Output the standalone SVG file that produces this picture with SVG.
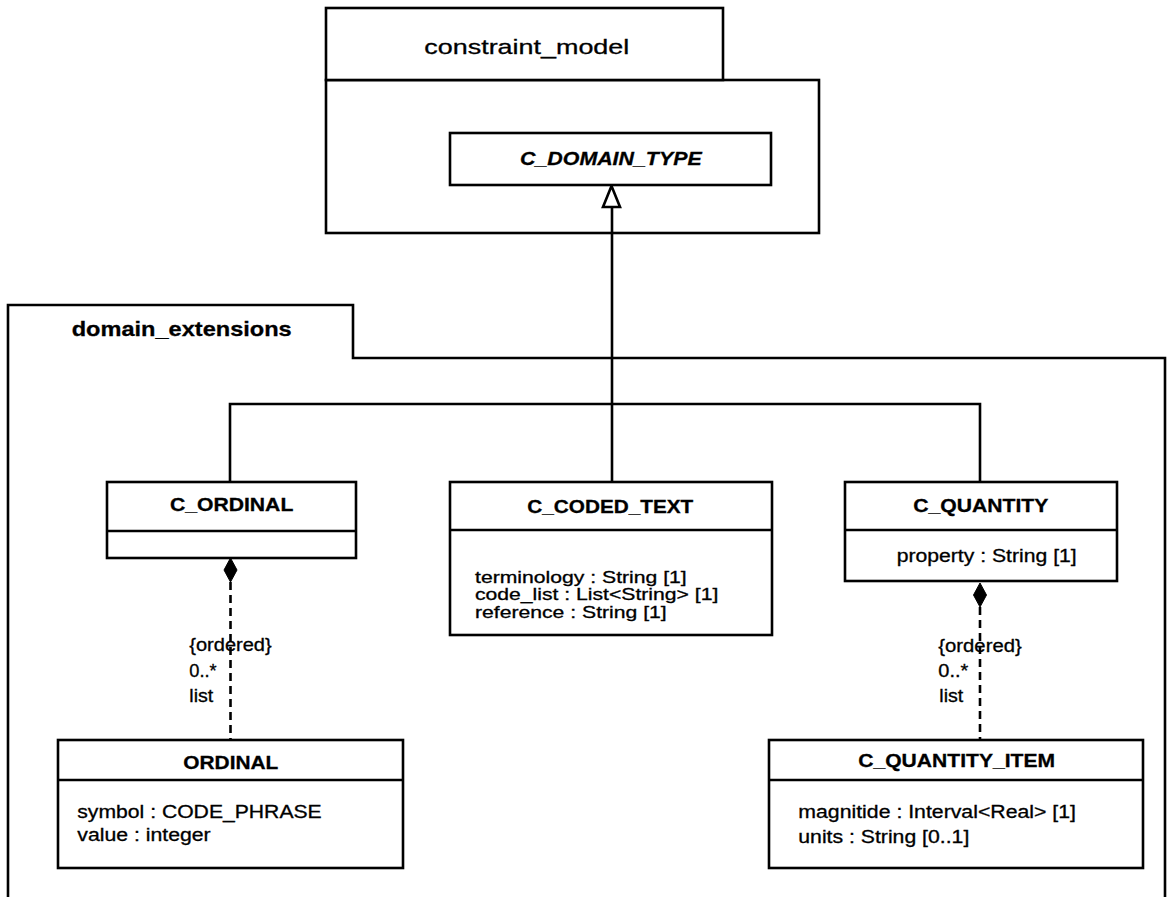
<svg xmlns="http://www.w3.org/2000/svg" width="1167" height="897" viewBox="0 0 1167 897">
<style>
.ln{fill:none;stroke:#000;stroke-width:2.6}
.box{fill:#fff;stroke:#000;stroke-width:2.6}
.dash{fill:none;stroke:#000;stroke-width:2.6;stroke-dasharray:8 5}
.solid{fill:#000;stroke:#000;stroke-width:1}
.hollow{fill:#fff;stroke:#000;stroke-width:2.6}
text{font-family:"Liberation Sans",Arial,sans-serif;fill:#000;stroke:#000;stroke-width:0.3}
.t{font-weight:bold;font-size:18.5px}
.a{font-size:17.5px}
.c{font-size:16.5px}
.pk{font-size:21px}
</style>
<rect width="1167" height="897" fill="#fff"/>

<g id="pkg_domain_extensions">
<path class="ln" d="M8,900 V305 H353 V358 H1165 V900"/>
<text class="pk" font-weight="bold" font-size="19.5" x="71.7" y="336" textLength="220" lengthAdjust="spacingAndGlyphs">domain_extensions</text>
</g>

<g id="pkg_constraint_model">
<rect class="box" x="326" y="80" width="493" height="153"/>
<rect class="box" x="326" y="8" width="397" height="72"/>
<text class="pk" x="424.3" y="53.5" textLength="205" lengthAdjust="spacingAndGlyphs">constraint_model</text>
</g>

<g id="connectors">
<path class="ln" d="M612,207 V482"/>
<path class="ln" d="M230,482 V404 H980 V482"/>
<polygon class="hollow" points="611.5,186 603,207 620,207"/>
<path class="dash" d="M230.5,582 V740"/>
<polygon class="solid" points="230.5,558 237,570 230.5,582 224,570"/>
<path class="dash" d="M980,607 V740"/>
<polygon class="solid" points="980,583 986.5,595 980,607 973.5,595"/>
<text class="a" x="189.3" y="651" textLength="82.4" lengthAdjust="spacingAndGlyphs">{ordered}</text>
<text class="a" x="189.3" y="676.5" textLength="27.4" lengthAdjust="spacingAndGlyphs">0..*</text>
<text class="a" x="189.3" y="701.5" textLength="24" lengthAdjust="spacingAndGlyphs">list</text>
<text class="a" x="938.3" y="651.5" textLength="83.4" lengthAdjust="spacingAndGlyphs">{ordered}</text>
<text class="a" x="938.3" y="677" textLength="30" lengthAdjust="spacingAndGlyphs">0..*</text>
<text class="a" x="939.3" y="701.5" textLength="24" lengthAdjust="spacingAndGlyphs">list</text>
</g>

<g id="C_DOMAIN_TYPE">
<rect class="box" x="450" y="133" width="321" height="52"/>
<text class="t" font-style="italic" x="520" y="165" textLength="181.7" lengthAdjust="spacingAndGlyphs">C_DOMAIN_TYPE</text>
</g>

<g id="C_ORDINAL">
<rect class="box" x="107" y="482" width="249" height="76"/>
<path class="ln" d="M107,531 H356"/>
<text class="t" x="170" y="511" textLength="123.3" lengthAdjust="spacingAndGlyphs">C_ORDINAL</text>
</g>

<g id="C_CODED_TEXT">
<rect class="box" x="450" y="482" width="322" height="153"/>
<path class="ln" d="M450,530 H772"/>
<text class="t" x="527.3" y="513" textLength="166" lengthAdjust="spacingAndGlyphs">C_CODED_TEXT</text>
<text class="c" x="475" y="582.5" textLength="211.7" lengthAdjust="spacingAndGlyphs">terminology : String [1]</text>
<text class="c" x="475" y="600" textLength="243.3" lengthAdjust="spacingAndGlyphs">code_list : List&lt;String&gt; [1]</text>
<text class="c" x="475" y="617.5" textLength="191.7" lengthAdjust="spacingAndGlyphs">reference : String [1]</text>
</g>

<g id="C_QUANTITY">
<rect class="box" x="845" y="482" width="272" height="99"/>
<path class="ln" d="M845,530 H1117"/>
<text class="t" x="913.3" y="511.5" textLength="135" lengthAdjust="spacingAndGlyphs">C_QUANTITY</text>
<text class="a" x="896.7" y="562" textLength="180" lengthAdjust="spacingAndGlyphs">property : String [1]</text>
</g>

<g id="ORDINAL">
<rect class="box" x="58" y="740" width="345" height="128"/>
<path class="ln" d="M58,780 H403"/>
<text class="t" x="183.3" y="769" textLength="95" lengthAdjust="spacingAndGlyphs">ORDINAL</text>
<text class="a" x="77.3" y="817.5" textLength="244.4" lengthAdjust="spacingAndGlyphs">symbol : CODE_PHRASE</text>
<text class="a" x="77.3" y="840.5" textLength="133.4" lengthAdjust="spacingAndGlyphs">value : integer</text>
</g>

<g id="C_QUANTITY_ITEM">
<rect class="box" x="769" y="740" width="374" height="128"/>
<path class="ln" d="M769,780 H1143"/>
<text class="t" x="858.3" y="766.5" textLength="196.7" lengthAdjust="spacingAndGlyphs">C_QUANTITY_ITEM</text>
<text class="a" x="798.3" y="818" textLength="277.7" lengthAdjust="spacingAndGlyphs">magnitide : Interval&lt;Real&gt; [1]</text>
<text class="a" x="798.3" y="842.5" textLength="171" lengthAdjust="spacingAndGlyphs">units : String [0..1]</text>
</g>
</svg>
